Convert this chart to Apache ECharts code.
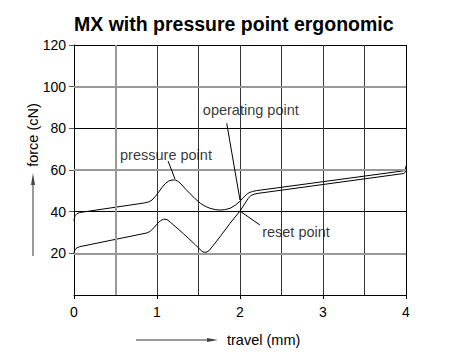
<!DOCTYPE html>
<html><head><meta charset="utf-8">
<script src="https://cdn.jsdelivr.net/npm/echarts@6/dist/echarts.min.js"></script>
<style>html,body{margin:0;padding:0;background:#fff}#c{width:450px;height:360px}</style>
</head><body><div id="c"></div>
<script>
const titleText = 'MX with pressure point ergonomic';
const xName = 'travel (mm)';
const yName = 'force (cN)';
const xTicks = [0, 1, 2, 3, 4];
const yTicks = [20, 40, 60, 80, 100, 120];

const pressTravel = [0, 0.005, 0.015, 0.035, 0.07, 0.85, 0.9, 0.94, 0.98, 1.02, 1.06, 1.10, 1.14, 1.18, 1.22, 1.26, 1.30, 1.35, 1.40, 1.46, 1.52, 1.58, 1.64, 1.70, 1.75, 1.81, 1.88, 1.94, 2.0, 2.04, 2.08, 2.11, 2.15, 2.2, 3.97, 3.985, 3.995, 4.0];
const pressForce  = [35.5, 37.0, 38.2, 39.0, 39.6, 44.2, 44.7, 45.6, 47.3, 49.4, 51.6, 53.5, 54.7, 55.2, 55.2, 54.4, 52.8, 50.6, 48.6, 46.2, 44.1, 42.6, 41.6, 41.0, 40.8, 40.9, 41.6, 43.0, 45.0, 46.8, 48.3, 49.1, 49.7, 50.1, 59.6, 60.0, 60.7, 62.0];

const releaseTravel = [0, 0.005, 0.015, 0.035, 0.07, 0.88, 0.92, 0.96, 1.0, 1.04, 1.08, 1.12, 1.16, 1.32, 1.46, 1.50, 1.54, 1.57, 1.60, 1.63, 1.67, 1.76, 1.88, 2.0, 2.06, 2.10, 2.13, 2.17, 2.22, 3.97, 3.985, 3.995, 4.0];
const releaseForce  = [20.0, 21.0, 21.9, 22.6, 23.2, 29.8, 30.6, 32.2, 34.0, 35.6, 36.4, 36.2, 35.0, 29.4, 24.2, 22.6, 21.0, 20.5, 20.6, 21.4, 23.4, 28.0, 34.4, 40.3, 44.0, 46.4, 47.7, 48.4, 48.8, 58.3, 58.7, 59.5, 61.0];

const annotationTexts = ['pressure point', 'operating point', 'reset point'];
const annotationTravel = [1.108, 2.13, 2.675];
const annotationForce = [67.2, 88.8, 30.2];
const leaderFrom = [[1.133, 64.3], [1.84, 82.4], [2.0, 40.3]];
const leaderTo = [[1.217, 55.7], [2.0, 45.6], [2.24, 33.6]];

const grayGridForce = [20, 60, 100];
const grayGridTravel = [0.5];

const FONT = 'Liberation Sans, Arial, Helvetica, sans-serif';
const zip = (xs, ys) => xs.map((x, i) => [x, ys[i]]);

const chart = echarts.init(document.getElementById('c'), null, {renderer: 'svg'});
const T = 'rgba(0,0,0,0)';
chart.setOption({
  animation: false,
  backgroundColor: '#fff',
  title: {
    text: titleText, left: 74, top: 14, padding: 0,
    textStyle: {fontFamily: FONT, fontSize: 19.5, fontWeight: 'bold', color: '#000'}
  },
  grid: {left: 74, right: 44, top: 45, bottom: 65, containLabel: false},
  xAxis: [{
    type: 'value', min: 0, max: 4, interval: 0.5,
    axisLine: {show: false}, axisTick: {show: false}, axisLabel: {show: false},
    splitLine: {show: true, lineStyle: {width: 1, color: [T, T, '#333', '#333', '#333', '#333', '#333', '#333', '#000']}}
  }, {
    type: 'value', min: 0, max: 4, interval: 1, position: 'bottom',
    axisLine: {show: true, lineStyle: {color: '#000', width: 1}},
    axisTick: {show: true, length: 4, lineStyle: {color: '#000'}},
    axisLabel: {margin: 10, fontFamily: FONT, fontSize: 14, color: '#000',
      formatter: v => xTicks.includes(v) ? String(v) : ''},
    splitLine: {show: false}
  }],
  yAxis: {
    type: 'value', min: 0, max: 120, interval: 20,
    axisLine: {show: true, lineStyle: {color: '#000', width: 1}},
    axisTick: {show: true, length: 5, lineStyle: {color: '#555'}},
    axisLabel: {margin: 8, fontFamily: FONT, fontSize: 14, color: '#000', showMinLabel: false,
      formatter: v => yTicks.includes(v) ? String(v) : ''},
    splitLine: {show: true, lineStyle: {width: 1, color: [T, T, '#000', T, '#000', T, '#000']}}
  },
  series: [{
    name: 'grid', type: 'line', data: [], z: 1, silent: true,
    markLine: {
      silent: true, symbol: ['none', 'none'], label: {show: false}, animation: false,
      lineStyle: {color: '#999', width: 2, type: 'solid'},
      data: grayGridForce.map(v => ({yAxis: v})).concat(grayGridTravel.map(v => ({xAxis: v})))
    }
  }, {
    name: 'press', type: 'line', data: zip(pressTravel, pressForce), showSymbol: false, symbol: 'none',
    smooth: false, z: 3,
    lineStyle: {color: '#000', width: 1},
    markLine: {
      silent: true, symbol: ['none', 'none'], label: {show: false}, animation: false,
      lineStyle: {color: '#000', width: 1, type: 'solid'},
      data: leaderFrom.map((p, i) => [{coord: p}, {coord: leaderTo[i]}])
    }
  }, {
    name: 'release', type: 'line', data: zip(releaseTravel, releaseForce), showSymbol: false, symbol: 'none',
    smooth: false, z: 3,
    lineStyle: {color: '#000', width: 1}
  }, {
    name: 'annotations', type: 'scatter', symbolSize: 0, z: 4, silent: true,
    data: annotationTexts.map((t, i) => ({name: t, value: [annotationTravel[i], annotationForce[i]]})),
    label: {show: true, position: 'inside', formatter: p => p.name,
      fontFamily: FONT, fontSize: 14.5, color: '#000'}
  }],
  graphic: [
    {type: 'line', shape: {x1: 33, y1: 256, x2: 33, y2: 183}, style: {stroke: '#999', lineWidth: 2}},
    {type: 'polygon', shape: {points: [[33, 173], [31, 185], [35, 185]]}, style: {fill: '#444'}},
    {type: 'text', x: 33, y: 135, rotation: Math.PI / 2,
      style: {text: yName, fontFamily: FONT, fontSize: 14.5, fill: '#000', align: 'center', verticalAlign: 'middle'}},
    {type: 'line', shape: {x1: 136, y1: 340, x2: 208, y2: 340}, style: {stroke: '#999', lineWidth: 2}},
    {type: 'polygon', shape: {points: [[218, 340], [207, 338], [207, 342]]}, style: {fill: '#444'}},
    {type: 'text', x: 227, y: 340,
      style: {text: xName, fontFamily: FONT, fontSize: 14.5, fill: '#000', align: 'left', verticalAlign: 'middle'}}
  ]
});
</script>
</body></html>
